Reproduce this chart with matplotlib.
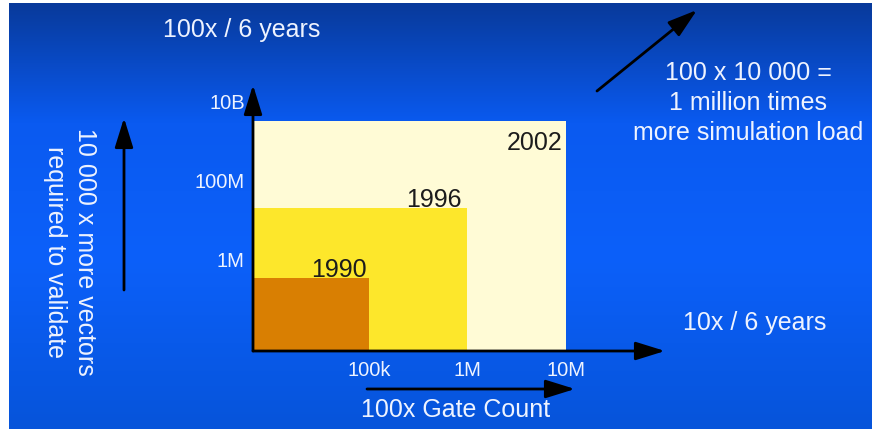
import numpy as np
import matplotlib
matplotlib.use('Agg')
import matplotlib.pyplot as plt
from matplotlib.patches import Rectangle

## Verification load diagram: gate count vs. vectors needed, 1990 / 1996 / 2002

years = ['1990', '1996', '2002']
gate_counts = [1e5, 1e6, 1e7]          # right edge of each box
vector_counts = [3.3e5, 2e7, 3.2e9]    # top edge of each box

x_ticks = [1e5, 1e6, 1e7]
x_tick_labels = ['100k', '1M', '10M']
y_ticks = [1e6, 1e8, 1e10]
y_tick_labels = ['1M', '100M', '10B']

box_colors = ['#d97f02', '#fde72b', '#fffbd6']
text_white = '#eef3ff'

plt.rcParams['font.family'] = ['Liberation Sans', 'DejaVu Sans']

W, H = 874, 429
fig = plt.figure(figsize=(W / 100, H / 100), dpi=100, facecolor='white')


def fpos(px, py):
    # pixel position (from top-left) -> figure fraction
    return px / W, 1 - py / H


# blue gradient background
bg = fig.add_axes([9 / W, 0, (872 - 9) / W, (H - 3) / H])
rows = np.linspace(0, 1, 200)
anchors = [0.0, 0.28, 0.6, 1.0]
reds = np.interp(rows, anchors, [8, 10, 12, 6])
greens = np.interp(rows, anchors, [58, 90, 96, 84])
blues = np.interp(rows, anchors, [155, 240, 250, 218])
grad = np.stack([reds, greens, blues], axis=1)[:, None, :] / 255.0
bg.imshow(grad, aspect='auto', extent=[0, 1, 1, 0])
bg.set_axis_off()

# main diagram axes
ax = fig.add_axes([253 / W, 1 - 351 / H, 412 / W, 266 / H])
ax.patch.set_alpha(0)
ax.set_xscale('log')
ax.set_yscale('log')
x_min, x_max = 6590, 1.03e8
y_min, y_max = 4677, 2.62e10
ax.set_xlim(x_min, x_max)
ax.set_ylim(y_min, y_max)

# biggest box first so smaller ones sit on top
for yr, g, v, c in reversed(list(zip(years, gate_counts, vector_counts, box_colors))):
    ax.add_patch(Rectangle((x_min, y_min), g - x_min, v - y_min, facecolor=c,
                           edgecolor='none', zorder=1))

# year labels near the top-right corner of each box
label_offsets = {'1990': (-22, 6, 'center', 'center'),
                 '1996': (-24, 6, 'center', 'center'),
                 '2002': (-2, -16, 'right', 'center')}
for yr, g, v in zip(years, gate_counts, vector_counts):
    dx, dy, ha, va = label_offsets[yr]
    ax.annotate(yr, xy=(g, v), xytext=(dx, dy), textcoords='offset points',
                ha=ha, va=va, fontsize=18, color='#1c1c1c', zorder=4)

ax.set_xticks(x_ticks, x_tick_labels)
ax.set_yticks(y_ticks, y_tick_labels)
ax.minorticks_off()
ax.tick_params(axis='x', length=0, pad=7, labelsize=14.5, labelcolor=text_white)
ax.tick_params(axis='y', length=0, pad=6, labelsize=14.5, labelcolor=text_white)
for sp in ax.spines.values():
    sp.set_visible(False)

arrow_kw = dict(arrowstyle='-|>,head_length=0.9,head_width=0.28', lw=2,
                color='black', shrinkA=0, shrinkB=0, mutation_scale=20)
ax.annotate('', xy=(0, 1), xytext=(0, 0), xycoords='axes fraction',
            arrowprops=arrow_kw, zorder=5)
ax.annotate('', xy=(1, 0), xytext=(0, 0), xycoords='axes fraction',
            arrowprops=arrow_kw, zorder=5)

# free-standing arrows
for tail, tip in [((124, 290), (124, 118)),
                  ((597, 91), (697, 10)),
                  ((367, 389), (575, 389))]:
    bg.annotate('', xy=fpos(*tip), xytext=fpos(*tail), xycoords='figure fraction',
                arrowprops=arrow_kw)

# captions
fig.text(*fpos(242, 30), '100x / 6 years', ha='center', va='center',
         fontsize=18, color=text_white)
fig.text(*fpos(755, 323), '10x / 6 years', ha='center', va='center',
         fontsize=18, color=text_white)
fig.text(*fpos(748, 103), '100 x 10 000 =\n1 million times\nmore simulation load',
         ha='center', va='center', fontsize=18, color=text_white,
         multialignment='center', linespacing=1.3)
fig.text(*fpos(456, 410), '100x Gate Count', ha='center', va='center',
         fontsize=18, color=text_white)
fig.text(*fpos(70, 252), '10 000 x more vectors\nrequired to validate',
         ha='center', va='center', rotation=-90, fontsize=18, color=text_white,
         multialignment='center', linespacing=1.3)

fig.savefig('out.png', dpi=100, facecolor=fig.get_facecolor())
